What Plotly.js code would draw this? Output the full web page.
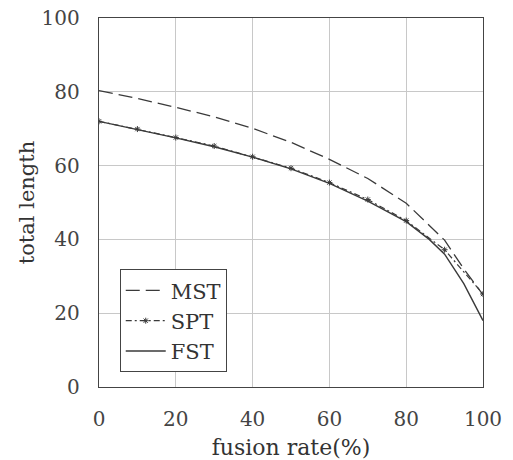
<!DOCTYPE html>
<html>
<head>
<meta charset="utf-8">
<script src="https://cdn.plot.ly/plotly-3.0.1.min.js"></script>
<style>html,body{margin:0;padding:0;background:#fff;}#chart{width:513px;height:460px;}</style>
</head>
<body>
<div id="chart"></div>
<script>
// fusion rate (%) sample points
const mstX = [0, 10, 20, 30, 40, 50, 60, 70, 80, 90, 95, 100];
const mstY = [80.3, 78.2, 75.8, 73.2, 70.1, 66.3, 61.7, 56.5, 49.8, 39.8, 32, 25];

const sptX = [0, 10, 20, 30, 40, 50, 60, 70, 80, 90, 100];
const sptY = [72, 69.9, 67.6, 65.3, 62.4, 59.3, 55.4, 50.8, 45.1, 37.2, 25.2];

const fstX = [0, 10, 20, 30, 40, 50, 60, 70, 80, 86, 90, 95, 100];
const fstY = [72, 69.8, 67.5, 65.1, 62.3, 59.1, 55.2, 50.4, 44.8, 40, 36, 28, 18];

const seriesNames = ["MST", "SPT", "FST"];
const xTicks = [0, 20, 40, 60, 80, 100];
const yTicks = [0, 20, 40, 60, 80, 100];

const lineColor = "#3a3a3a";
const font = "DejaVu Serif, Liberation Serif, serif";

const traces = [
  {x: mstX, y: mstY, name: seriesNames[0], mode: "lines",
   line: {color: lineColor, width: 1.3, dash: "14px,6px"}},
  {x: sptX, y: sptY, name: seriesNames[1], mode: "lines+markers",
   line: {color: lineColor, width: 1.2, dash: "6px,3px,2px,3px"},
   marker: {symbol: "asterisk-open", size: 5, color: lineColor, line: {color: lineColor, width: 1}}},
  {x: fstX, y: fstY, name: seriesNames[2], mode: "lines",
   line: {color: lineColor, width: 1.4}}
];

const axisCommon = {
  showline: true, mirror: true, linecolor: "#444", linewidth: 1.2,
  showgrid: true, gridcolor: "#c8c8c8", gridwidth: 1,
  zeroline: false, ticks: "", tickmode: "array",
  tickfont: {family: font, size: 20, color: "#444"}
};

const layout = {
  width: 513, height: 460,
  margin: {l: 99, r: 30, t: 18, b: 73},
  paper_bgcolor: "#fff", plot_bgcolor: "#fff",
  showlegend: true,
  legend: {
    x: 0.054, y: 0.04, xanchor: "left", yanchor: "bottom",
    bgcolor: "#fff", bordercolor: "#444", borderwidth: 1,
    font: {family: font, size: 21, color: "#333"},
    tracegroupgap: 0, itemwidth: 40
  },
  xaxis: Object.assign({}, axisCommon, {
    range: [0, 100], tickvals: xTicks, ticktext: xTicks.map(String),
    ticklabelstandoff: 14,
    title: {text: "fusion rate(%)", font: {family: font, size: 22, color: "#333"}, standoff: 10}
  }),
  yaxis: Object.assign({}, axisCommon, {
    range: [0, 100], tickvals: yTicks, ticktext: yTicks.map(String),
    ticklabelstandoff: 14,
    title: {text: "total length", font: {family: font, size: 21, color: "#333"}, standoff: 1}
  })
};

Plotly.newPlot("chart", traces, layout, {displayModeBar: false, staticPlot: true});
</script>
</body>
</html>
